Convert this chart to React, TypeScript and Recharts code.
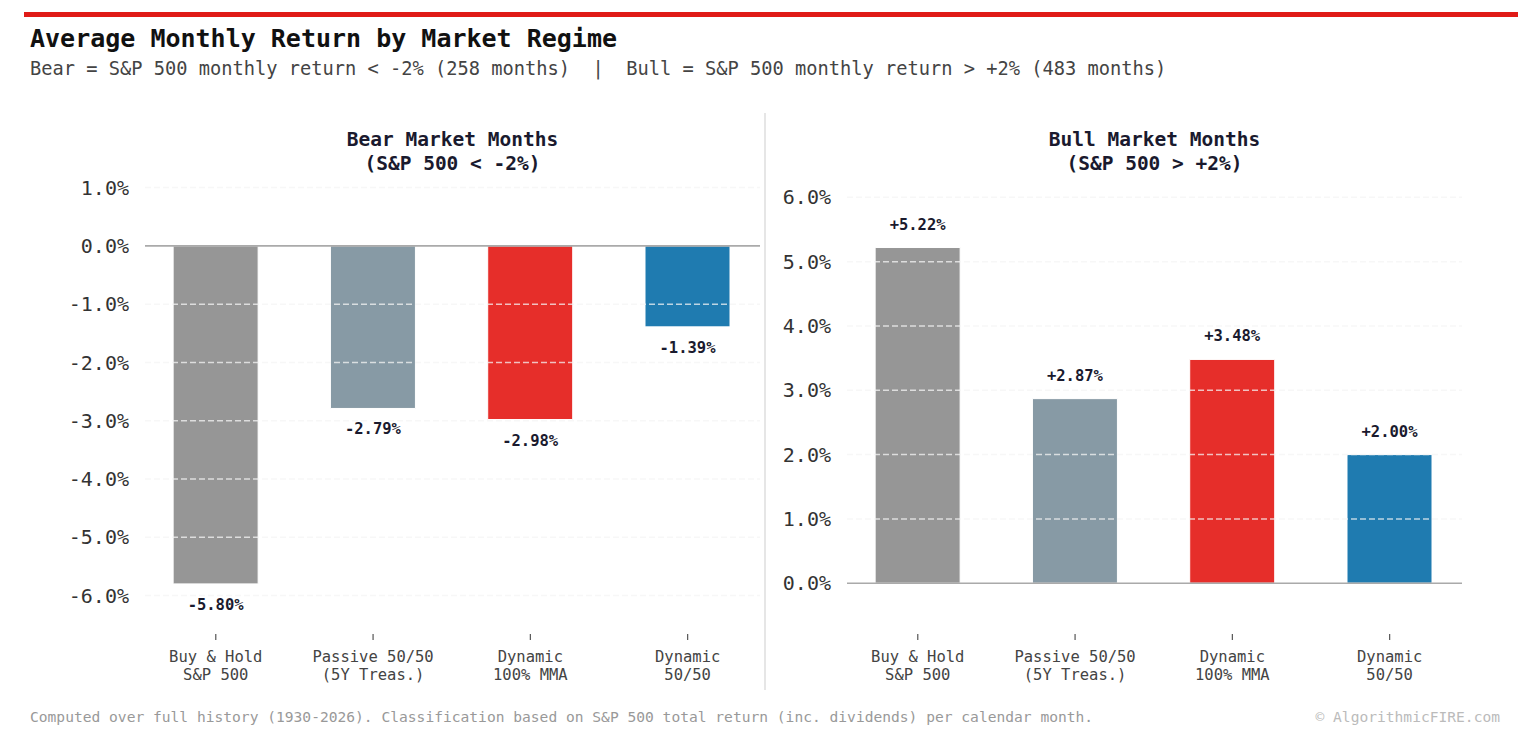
import { BarChart, Bar, XAxis, YAxis, Cell, ReferenceLine, LabelList } from "recharts";

const strategies = ["Buy & Hold\nS&P 500", "Passive 50/50\n(5Y Treas.)", "Dynamic\n100% MMA", "Dynamic\n50/50"];
const bearReturns = [-5.8, -2.79, -2.98, -1.39];
const bullReturns = [5.22, 2.87, 3.48, 2.0];
const bearTicks = [-6, -5, -4, -3, -2, -1, 0, 1];
const bullTicks = [0, 1, 2, 3, 4, 5, 6];
const xTicks = [0, 1, 2, 3];

const barColors = ["#969696", "#879AA5", "#E62E2A", "#1F7BB0"];
const MONO = '"DejaVu Sans Mono", "Liberation Mono", monospace';
const INK = "#1a1a2e";

const pct = (v: number) => `${v.toFixed(1)}%`;
const signed = (v: number) => `${v > 0 ? "+" : ""}${v.toFixed(2)}%`;

function CategoryTick({ x, y, payload }: any) {
  const lines = strategies[payload.value].split("\n");
  return (
    <text x={x} y={y} textAnchor="middle" fontFamily={MONO} fontSize={15.5} fill="#444">
      {lines.map((l, i) => (
        <tspan key={i} x={x} dy={i === 0 ? 20 : 18}>
          {l}
        </tspan>
      ))}
    </text>
  );
}

function ValueLabel({ x, y, width, height, value }: any) {
  const top = Math.min(y, y + height);
  const bottom = Math.max(y, y + height);
  const cy = value < 0 ? bottom + 21 : top - 23;
  return (
    <text
      x={x + width / 2}
      y={cy}
      textAnchor="middle"
      dominantBaseline="central"
      fontFamily={MONO}
      fontWeight="bold"
      fontSize={15.5}
      fill={INK}
    >
      {signed(value)}
    </text>
  );
}

function RegimePanel({
  values,
  ticks,
  domain,
  left,
  width,
  yWidth,
  rightMargin,
}: {
  values: number[];
  ticks: number[];
  domain: [number, number];
  left: number;
  width: number;
  yWidth: number;
  rightMargin: number;
}) {
  const data = strategies.map((s, i) => ({ pos: i, name: s, value: values[i] }));
  return (
    <div style={{ position: "absolute", left, top: 0 }}>
      <BarChart
        width={width}
        height={741}
        data={data}
        margin={{ top: 180, right: rightMargin, bottom: 0, left: 0 }}
      >
        <XAxis
          type="number"
          dataKey="pos"
          domain={[-0.45, 3.46]}
          ticks={xTicks}
          allowDataOverflow
          axisLine={false}
          tickLine={{ stroke: "#555", strokeWidth: 1.2 }}
          tickSize={6}
          height={107}
          tick={<CategoryTick />}
          interval={0}
        />
        <YAxis
          type="number"
          domain={domain}
          ticks={ticks}
          allowDataOverflow
          axisLine={false}
          tickLine={false}
          tickSize={6}
          tickMargin={10}
          width={yWidth}
          tickFormatter={pct}
          tick={{ fontFamily: MONO, fontSize: 20, fill: "#333" }}
        />
        <Bar dataKey="value" barSize={85} isAnimationActive={false} stroke="#fff" strokeWidth={1}>
          {data.map((d, i) => (
            <Cell key={d.name} fill={barColors[i]} />
          ))}
          <LabelList dataKey="value" content={<ValueLabel />} />
        </Bar>
        {ticks
          .filter((t) => t !== 0)
          .map((t) => (
            <ReferenceLine
              key={t}
              y={t}
              stroke="#f4f4f4"
              strokeOpacity={0.75}
              strokeWidth={1.5}
              strokeDasharray="6 3"
            />
          ))}
        <ReferenceLine y={0} stroke="#aaaaaa" strokeWidth={1.6} />
      </BarChart>
    </div>
  );
}

function PanelTitle({ center, lines }: { center: number; lines: string[] }) {
  return (
    <div
      style={{
        position: "absolute",
        left: center - 200,
        width: 400,
        top: 128,
        textAlign: "center",
        fontFamily: MONO,
        fontWeight: "bold",
        fontSize: 19.5,
        lineHeight: "24px",
        color: INK,
        whiteSpace: "pre",
      }}
    >
      {lines.join("\n")}
    </div>
  );
}

export default function App() {
  return (
    <div
      style={{
        position: "absolute",
        left: 0,
        top: 0,
        width: 1530,
        height: 741,
        background: "#fff",
        overflow: "hidden",
        fontFamily: MONO,
      }}
    >
      <div style={{ position: "absolute", left: 24, top: 12, width: 1494, height: 5, background: "#E01B17" }} />
      <div
        style={{
          position: "absolute",
          left: 30,
          top: 24,
          fontSize: 25,
          fontWeight: "bold",
          color: "#111",
          lineHeight: "30px",
          whiteSpace: "pre",
        }}
      >
        Average Monthly Return by Market Regime
      </div>
      <div
        style={{
          position: "absolute",
          left: 30,
          top: 58,
          fontSize: 18.7,
          color: "#444",
          lineHeight: "22px",
          whiteSpace: "pre",
        }}
      >
        {"Bear = S&P 500 monthly return < -2% (258 months)  |  Bull = S&P 500 monthly return > +2% (483 months)"}
      </div>

      <RegimePanel
        values={bearReturns}
        ticks={bearTicks}
        domain={[-6.66, 1.13]}
        left={0}
        width={770}
        yWidth={145}
        rightMargin={10}
      />
      <RegimePanel
        values={bullReturns}
        ticks={bullTicks}
        domain={[-0.79, 6.27]}
        left={770}
        width={760}
        yWidth={77}
        rightMargin={68}
      />

      <PanelTitle center={452.5} lines={["Bear Market Months", "(S&P 500 < -2%)"]} />
      <PanelTitle center={1154.5} lines={["Bull Market Months", "(S&P 500 > +2%)"]} />

      <div style={{ position: "absolute", left: 764, top: 113, width: 2, height: 577, background: "#e6e6e6" }} />

      <div
        style={{
          position: "absolute",
          left: 30,
          top: 708,
          fontSize: 14.6,
          color: "#999",
          lineHeight: "18px",
          whiteSpace: "pre",
        }}
      >
        Computed over full history (1930-2026). Classification based on S&P 500 total return (inc. dividends) per calendar month.
      </div>
      <div
        style={{
          position: "absolute",
          right: 30,
          top: 708,
          fontSize: 14.6,
          color: "#bbb",
          lineHeight: "18px",
          whiteSpace: "pre",
        }}
      >
        © AlgorithmicFIRE.com
      </div>
    </div>
  );
}
